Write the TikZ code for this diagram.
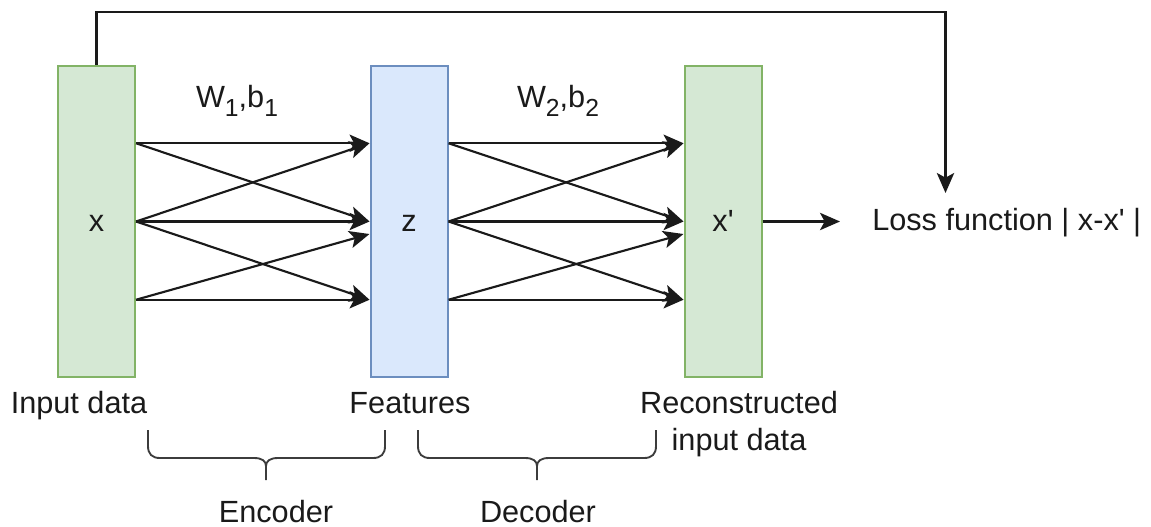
\documentclass[tikz,border=0pt]{standalone}
\usepackage{fontspec}
\setmainfont{Liberation Sans}
\usetikzlibrary{arrows.meta,calc}
\definecolor{greenfill}{HTML}{D5E8D4}
\definecolor{greenline}{HTML}{82B366}
\definecolor{bluefill}{HTML}{DAE8FC}
\definecolor{blueline}{HTML}{6C8EBF}
\definecolor{ink}{HTML}{1A1A1A}
\newcommand{\prm}{\textquotesingle}
\newcommand{\lowidx}[1]{\raisebox{-6.5pt}{\fontsize{18.5}{18.5}\selectfont #1}}
\begin{document}
\begin{tikzpicture}[x=0.75pt,y=-0.75pt,
  font=\fontsize{23}{27.75}\selectfont,
  layer/.style={draw=#1, line width=1.5pt, minimum width=57.75pt,
    minimum height=233.25pt, inner sep=0pt, text=ink,
    text height=15pt, text depth=0pt},
  wire/.style={draw=ink, line width=1.6pt,
    -{Stealth[length=15pt,width=13pt,inset=3.5pt]}},
  brace/.style={draw=ink!85, line width=1.4pt, line join=round},
  lbl/.style={anchor=base, text=ink, inner sep=0pt, align=center}]
\useasboundingbox (0,0) rectangle (1151,527);

% the three layers
\node[layer=greenline, fill=greenfill] (X)  at (96.5,221.5) {x};
\node[layer=blueline,  fill=bluefill]  (Z)  at (409,221.5)  {z};
\node[layer=greenline, fill=greenfill] (XP) at (723,221.5)  {x\prm};

% ports on the layer sides
\foreach \n in {X,Z} {
  \coordinate (\n o1) at ($(\n.north east)!0.25!(\n.south east)$);
  \coordinate (\n o2) at ($(\n.north east)!0.5!(\n.south east)$);
  \coordinate (\n o3) at ($(\n.north east)!0.75!(\n.south east)$);
}
\foreach \n in {Z,XP} {
  \coordinate (\n i1) at ($(\n.north west)!0.25!(\n.south west)$);
  \coordinate (\n i2) at ($(\n.north west)!0.5!(\n.south west)$);
  \coordinate (\n i2b) at ($(\n.north west)!0.54!(\n.south west)$);
  \coordinate (\n i3) at ($(\n.north west)!0.75!(\n.south west)$);
}

% encoder and decoder connections
\foreach \a/\b in {X/Z, Z/XP} {
  \draw[wire] (\a o1) -- (\b i1);
  \draw[wire] (\a o1) -- (\b i2);
  \draw[wire] (\a o2) -- (\b i1);
  \draw[wire] (\a o2) -- (\b i2);
  \draw[wire] (\a o2) -- (\b i3);
  \draw[wire] (\a o3) -- (\b i2b);
  \draw[wire] (\a o3) -- (\b i3);
}

% weight labels
\node[lbl] (w1) at (237,108) {W\lowidx{1},b\lowidx{1}};
\node[lbl] (w2) at (558,108) {W\lowidx{2},b\lowidx{2}};

% loss
\node[anchor=base west, inner sep=0pt, text=ink] (loss) at (872,230) {Loss function | x-x\prm\ |};
\coordinate (lossin) at (840,221.5);
\draw[wire] (XP.east) -- (lossin);
\coordinate (losstop) at (945.5,193);
\draw[wire] (X.north) -- ++(0,-53) -| (losstop);

% layer captions
\node[lbl] (cin)  at (79,413)  {Input data};
\node[lbl] (cfe)  at (410,413) {Features};
\node[lbl] (cre)  at (739,450) {Reconstructed\\input data};

% braces
\draw[brace] (148,430) -- (148,446) .. controls (148,454) and (152,458) .. (160,458)
  -- (254,458) .. controls (262,458) and (266,461) .. (266,466) -- (266,480);
\draw[brace] (385,430) -- (385,446) .. controls (385,454) and (381,458) .. (373,458)
  -- (278,458) .. controls (270,458) and (266,461) .. (266,466);
\draw[brace] (418,430) -- (418,446) .. controls (418,454) and (422,458) .. (430,458)
  -- (525,458) .. controls (533,458) and (537,461) .. (537,466) -- (537,480);
\draw[brace] (656,430) -- (656,446) .. controls (656,454) and (652,458) .. (644,458)
  -- (549,458) .. controls (541,458) and (537,461) .. (537,466);

\node[lbl] (enc) at (276,522) {Encoder};
\node[lbl] (dec) at (538,522) {Decoder};
\end{tikzpicture}
\end{document}
